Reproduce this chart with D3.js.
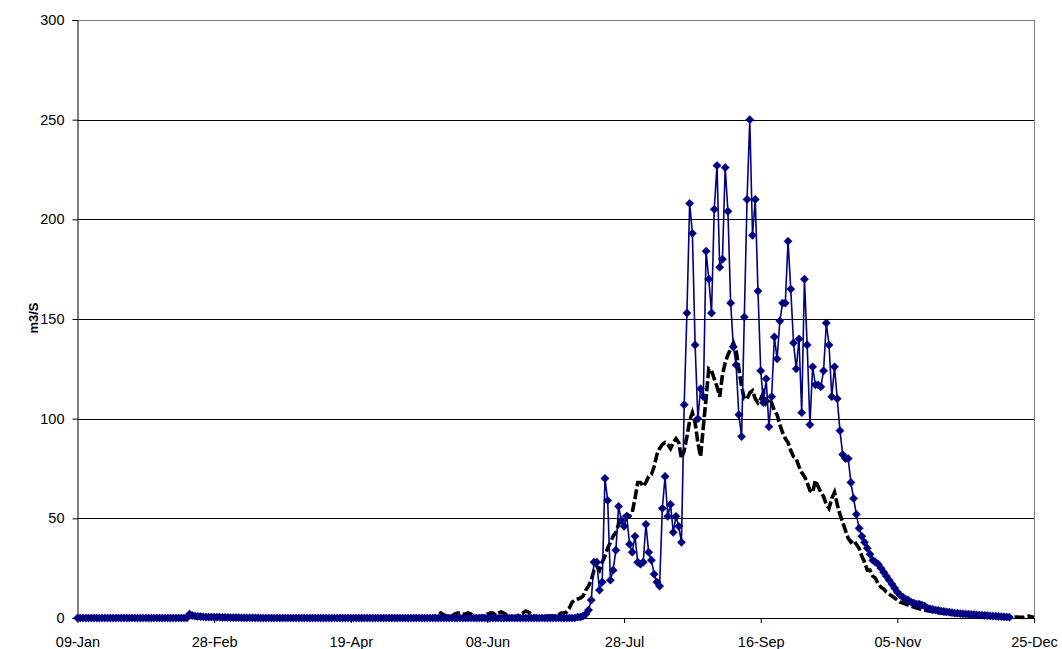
<html lang="en">
<head>
  <meta charset="UTF-8">
  <title>Flow m3/S</title>
  <style>
    body { margin: 0; background: #fff; }
    text { font-family: "Liberation Sans", Arial, sans-serif; }
  </style>
</head>
<body>
  <script src="https://d3js.org/d3.v7.min.js"></script>
  <div id="chart"></div>
  <script>
    // first day of the series (index 0), one value per day
    let startDay = new Date(2001, 0, 9);
    let endDay = new Date(2001, 11, 25);
    let tickStep = 50; // days between x tick labels
    let yTicks = [0, 50, 100, 150, 200, 250, 300];

    // blue series (diamond markers), day 0 .. 341
    let blueValues = [
      0, 0, 0, 0, 0, 0, 0, 0, 0, 0,
      0, 0, 0, 0, 0, 0, 0, 0, 0, 0,
      0, 0, 0, 0, 0, 0, 0, 0, 0, 0,
      0, 0, 0, 0, 0, 0, 0, 0, 0, 0,
      0, 2, 1.2, 1, 0.8, 0.7, 0.6, 0.5, 0.5, 0.5,
      0.4, 0.4, 0.4, 0.3, 0.3, 0.3, 0.2, 0.2, 0.2, 0.2,
      0.1, 0.1, 0.1, 0.1, 0.1, 0.1, 0.1, 0, 0, 0,
      0, 0, 0, 0, 0, 0, 0, 0, 0, 0,
      0, 0, 0, 0, 0, 0, 0, 0, 0, 0,
      0, 0, 0, 0, 0, 0, 0, 0, 0, 0,
      0, 0, 0, 0, 0, 0, 0, 0, 0, 0,
      0, 0, 0, 0, 0, 0, 0, 0, 0, 0,
      0, 0, 0, 0, 0, 0, 0, 0, 0, 0,
      0, 0, 0, 0, 0, 0, 0, 0, 0, 0,
      0, 0, 0, 0, 0, 0, 0, 0, 0, 0,
      0, 0, 0, 0, 0, 0, 0, 0, 0, 0,
      0, 0, 0, 0, 0, 0, 0, 0, 0, 0,
      0, 0, 0, 0, 0, 0, 0, 0, 0, 0,
      0, 0, 0, 0.5, 0.5, 1, 2, 4, 9, 28,
      28, 14, 18, 70, 59, 19, 24, 34, 56, 49,
      46, 51, 37, 33, 41, 28, 27, 28, 47, 33,
      29, 22, 18, 16, 55, 71, 51, 57, 43, 51,
      46, 38, 107, 153, 208, 193, 137, 100, 115, 111,
      184, 170, 153, 205, 227, 176, 180, 226, 204, 158,
      136, 127, 102, 91, 151, 210, 250, 192, 210, 164,
      124, 108, 120, 96, 111, 141, 130, 149, 158, 158,
      189, 165, 138, 125, 140, 103, 170, 137, 97, 126,
      117, 117, 116, 124, 148, 137, 111, 126, 110, 94,
      82, 80, 80, 68, 60, 52, 45, 41, 38, 35,
      32, 29, 28, 27, 25, 23, 21, 19, 17, 15,
      13, 11.5, 10.5, 9.5, 9, 8, 7.5, 7, 7, 6.5,
      6, 5, 4.6, 4.3, 4, 3.8, 3.5, 3.3, 3.1, 2.9,
      2.7, 2.5, 2.4, 2.2, 2.1, 2, 1.9, 1.8, 1.7, 1.6,
      1.5, 1.4, 1.3, 1.2, 1.1, 1, 0.9, 0.8, 0.7, 0.6,
      0.5, 0.4
    ];

    // black dashed series, day 0 .. 350
    let blackValues = [
      0, 0, 0, 0, 0, 0, 0, 0, 0, 0,
      0, 0, 0, 0, 0, 0, 0, 0, 0, 0,
      0, 0, 0, 0, 0, 0, 0, 0, 0, 0,
      0, 0, 0, 0, 0, 0, 0, 0, 0, 0,
      0.5, 1.5, 1, 0.5, 0, 0, 0, 0, 0, 0,
      0, 0, 0, 0, 0, 0, 0, 0, 0, 0,
      0, 0, 0, 0, 0, 0, 0, 0, 0, 0,
      0, 0, 0, 0, 0, 0, 0, 0, 0, 0,
      0, 0, 0, 0, 0, 0, 0, 0, 0, 0,
      0, 0, 0, 0, 0, 0, 0, 0, 0, 0,
      0, 0, 0, 0, 0, 0, 0, 0, 0, 0,
      0, 0, 0, 0, 0, 0, 0, 0, 0, 0,
      0, 0, 0, 0, 0, 0, 0, 0, 0, 0,
      0.5, 1, 2, 2.5, 1.5, 1, 0.5, 1, 2, 2.5,
      2.5, 2, 2, 2.5, 2, 1, 0.5, 0.5, 1, 1,
      2, 2.5, 2.5, 1.5, 2.5, 3, 2.5, 1.5, 1, 0.5,
      0.5, 1, 2, 2.5, 3.5, 3, 2, 1, 0.5, 0.5,
      0.5, 0.5, 1, 1, 1, 1, 1.5, 2.5, 2.5, 3,
      5, 8, 9, 9.5, 10, 11, 14, 16, 19, 24,
      26, 24, 28, 31, 35, 38, 41, 43, 47, 50,
      51, 52, 51, 53, 60, 68, 68, 66, 68, 71,
      72, 76, 82, 85, 87, 88, 87, 85, 88, 90,
      88, 80, 84, 91, 99, 103, 98, 88, 81, 96,
      110, 125, 124, 120, 116, 111, 122, 128, 132, 135,
      138, 134, 125, 116, 110, 110, 113, 114, 110, 108,
      110, 113, 108, 110, 108, 104, 102, 97, 93, 90,
      88, 84, 81, 80, 76, 73, 71, 68, 64, 63,
      69, 66, 63, 61, 57, 55, 60, 63, 57, 52,
      48, 44, 40, 38, 39, 37, 35, 31, 28, 24,
      24, 21, 20, 17, 15.5, 14.5, 13, 12, 11, 10,
      9, 8, 7.5, 7, 6.5, 6, 5.5, 5, 4.6, 4.3,
      4, 3.7, 3.4, 3.1, 2.9, 2.7, 2.5, 2.3, 2.1, 2,
      1.9, 1.8, 1.7, 1.6, 1.5, 1.4, 1.3, 1.2, 1.1, 1,
      0.9, 0.8, 0.8, 0.7, 0.7, 0.6, 0.6, 0.5, 0.5, 0.4,
      0.4, 0.4, 0.4, 0.5, 0.5, 0.4, 0.3, 0.8, 1, 0.6,
      0.4
    ];

    let yTitle = "m3/S";

    let width = 1062, height = 649;
    let plot = { left: 77.5, right: 1034, top: 20, bottom: 618 };

    function translate(x, y) { return 'translate(' + x + ',' + y + ')'; }

    let svg = d3.select("#chart")
      .append("svg")
        .attr("width", width)
        .attr("height", height);

    let x = d3.scaleTime()
      .domain([startDay, endDay])
      .range([plot.left, plot.right]);

    let y = d3.scaleLinear()
      .domain([0, 300])
      .range([plot.bottom, plot.top]);

    let toPoints = vals => vals.map((v, i) => ({ date: d3.timeDay.offset(startDay, i), value: v }));
    let blue = toPoints(blueValues);
    let black = toPoints(blackValues);

    // gridlines
    svg.append("g")
      .selectAll("line")
      .data(yTicks.filter(t => t > 0))
      .enter().append("line")
        .attr("x1", plot.left)
        .attr("x2", plot.right)
        .attr("y1", d => Math.round(y(d)) + 0.5)
        .attr("y2", d => Math.round(y(d)) + 0.5)
        .attr("stroke", d => d === 300 ? "#808080" : "#000")
        .attr("stroke-width", 1);

    // right border of plot area
    svg.append("line")
      .attr("x1", plot.right + 0.5).attr("x2", plot.right + 0.5)
      .attr("y1", y(300)).attr("y2", y(0))
      .attr("stroke", "#808080");

    // y axis
    let yAxis = svg.append("g")
      .attr("transform", translate(plot.left, 0))
      .call(d3.axisLeft(y).tickValues(yTicks).tickSize(5).tickPadding(8));
    yAxis.select(".domain").attr("stroke", "#000");
    yAxis.selectAll("text").style("font-size", "14.5px").attr("fill", "#000")
      .style("font-family", "'Liberation Sans', Arial, sans-serif");

    // x axis
    let xTickDates = d3.range(0, 351, tickStep).map(d => d3.timeDay.offset(startDay, d));
    let xAxis = svg.append("g")
      .attr("transform", translate(0, plot.bottom))
      .call(d3.axisBottom(x).tickValues(xTickDates).tickFormat(d3.timeFormat("%d-%b"))
        .tickSize(5).tickSizeOuter(0).tickPadding(14));
    xAxis.selectAll("text").style("font-size", "14.5px").attr("fill", "#000")
      .style("font-family", "'Liberation Sans', Arial, sans-serif");

    // y title
    svg.append("text")
      .attr("transform", translate(38, 318) + " rotate(-90)")
      .style("text-anchor", "middle")
      .style("font-size", "13px")
      .style("font-weight", "bold")
      .text(yTitle);

    let line = d3.line()
      .x(d => x(d.date))
      .y(d => y(d.value));

    // black dashed series
    svg.append("path")
      .datum(black)
      .attr("fill", "none")
      .attr("stroke", "#000")
      .attr("stroke-width", 3.6)
      .attr("stroke-dasharray", "10,3")
      .attr("d", line);

    // blue series
    svg.append("path")
      .datum(blue)
      .attr("fill", "none")
      .attr("stroke", "#000080")
      .attr("stroke-width", 1.6)
      .attr("d", line);

    svg.append("g")
      .selectAll("path")
      .data(blue)
      .enter().append("path")
        .attr("d", d3.symbol(d3.symbolSquare).size(34))
        .attr("transform", d => translate(x(d.date), y(d.value)) + " rotate(45)")
        .attr("fill", "#000080")
        .attr("stroke", "#000080")
        .attr("stroke-width", 0.5);
  </script>
</body>
</html>
